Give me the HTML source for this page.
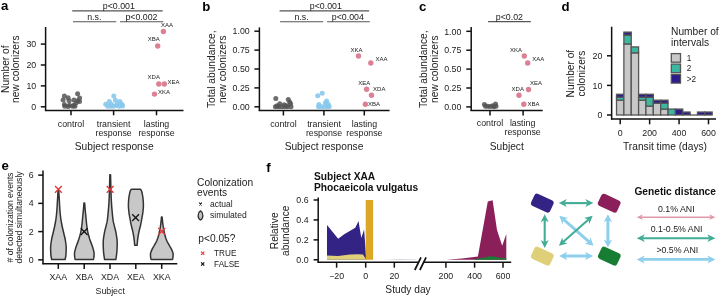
<!DOCTYPE html>
<html><head><meta charset="utf-8"><style>
html,body{margin:0;padding:0;background:#fff;width:720px;height:296px;overflow:hidden;}
svg{display:block;font-family:"Liberation Sans", sans-serif;filter:blur(0.35px);}
</style></head><body>
<svg width="720" height="296" viewBox="0 0 720 296" font-family='"Liberation Sans", sans-serif'>
<text x="1.00" y="9.90" font-size="13.2" text-anchor="start" font-weight="bold" fill="#000" >a</text>
<text x="202.20" y="10.60" font-size="13.2" text-anchor="start" font-weight="bold" fill="#000" >b</text>
<text x="419.00" y="10.80" font-size="13.2" text-anchor="start" font-weight="bold" fill="#000" >c</text>
<text x="561.50" y="10.60" font-size="13.2" text-anchor="start" font-weight="bold" fill="#000" >d</text>
<text x="1.40" y="169.50" font-size="13.2" text-anchor="start" font-weight="bold" fill="#000" >e</text>
<text x="266.20" y="171.70" font-size="13.2" text-anchor="start" font-weight="bold" fill="#000" >f</text>
<line x1="45.60" y1="27.00" x2="45.60" y2="111.05" stroke="#111" stroke-width="1.5" />
<line x1="44.95" y1="110.40" x2="183.50" y2="110.40" stroke="#111" stroke-width="1.5" />
<line x1="40.80" y1="106.80" x2="45.60" y2="106.80" stroke="#111" stroke-width="1.5" />
<text x="36.20" y="110.00" font-size="8.8" text-anchor="end" font-weight="normal" fill="#222" >0</text>
<line x1="40.80" y1="85.90" x2="45.60" y2="85.90" stroke="#111" stroke-width="1.5" />
<text x="36.20" y="89.10" font-size="8.8" text-anchor="end" font-weight="normal" fill="#222" >10</text>
<line x1="40.80" y1="65.00" x2="45.60" y2="65.00" stroke="#111" stroke-width="1.5" />
<text x="36.20" y="68.20" font-size="8.8" text-anchor="end" font-weight="normal" fill="#222" >20</text>
<line x1="40.80" y1="44.10" x2="45.60" y2="44.10" stroke="#111" stroke-width="1.5" />
<text x="36.20" y="47.30" font-size="8.8" text-anchor="end" font-weight="normal" fill="#222" >30</text>
<line x1="71.00" y1="110.40" x2="71.00" y2="115.30" stroke="#111" stroke-width="1.5" />
<line x1="113.60" y1="110.40" x2="113.60" y2="115.30" stroke="#111" stroke-width="1.5" />
<line x1="156.50" y1="110.40" x2="156.50" y2="115.30" stroke="#111" stroke-width="1.5" />
<text x="71.00" y="126.90" font-size="8.8" text-anchor="middle" font-weight="normal" fill="#222" >control</text>
<text x="113.60" y="127.00" font-size="8.8" text-anchor="middle" font-weight="normal" fill="#222" >transient</text>
<text x="113.60" y="135.90" font-size="8.8" text-anchor="middle" font-weight="normal" fill="#222" >response</text>
<text x="156.50" y="127.00" font-size="8.8" text-anchor="middle" font-weight="normal" fill="#222" >lasting</text>
<text x="156.50" y="135.90" font-size="8.8" text-anchor="middle" font-weight="normal" fill="#222" >response</text>
<text x="114.20" y="149.80" font-size="10.2" text-anchor="middle" font-weight="normal" fill="#222" >Subject response</text>
<text transform="translate(8.60,69.20) rotate(-90)" font-size="10.2" text-anchor="middle" font-weight="normal" fill="#222">Number of</text>
<text transform="translate(19.10,69.20) rotate(-90)" font-size="10.2" text-anchor="middle" font-weight="normal" fill="#222">new colonizers</text>
<line x1="72.20" y1="10.80" x2="162.70" y2="10.80" stroke="#555" stroke-width="1.15" />
<text x="118.80" y="8.60" font-size="8.8" text-anchor="middle" font-weight="normal" fill="#222" >p&lt;0.001</text>
<line x1="73.00" y1="21.75" x2="116.20" y2="21.75" stroke="#555" stroke-width="1.15" />
<text x="94.30" y="19.70" font-size="8.8" text-anchor="middle" font-weight="normal" fill="#222" >n.s.</text>
<line x1="120.00" y1="21.75" x2="163.20" y2="21.75" stroke="#555" stroke-width="1.15" />
<text x="141.40" y="19.70" font-size="8.8" text-anchor="middle" font-weight="normal" fill="#222" >p&lt;0.002</text>
<circle cx="64.40" cy="96.10" r="2.5" fill="#555555" fill-opacity="0.85"/>
<circle cx="68.10" cy="97.80" r="2.5" fill="#555555" fill-opacity="0.85"/>
<circle cx="77.60" cy="93.70" r="2.5" fill="#555555" fill-opacity="0.85"/>
<circle cx="79.60" cy="98.10" r="2.5" fill="#555555" fill-opacity="0.85"/>
<circle cx="63.10" cy="100.10" r="2.5" fill="#555555" fill-opacity="0.85"/>
<circle cx="69.10" cy="100.80" r="2.5" fill="#555555" fill-opacity="0.85"/>
<circle cx="73.90" cy="100.10" r="2.5" fill="#555555" fill-opacity="0.85"/>
<circle cx="77.60" cy="100.80" r="2.5" fill="#555555" fill-opacity="0.85"/>
<circle cx="64.40" cy="104.50" r="2.5" fill="#555555" fill-opacity="0.85"/>
<circle cx="69.50" cy="105.20" r="2.5" fill="#555555" fill-opacity="0.85"/>
<circle cx="73.90" cy="105.20" r="2.5" fill="#555555" fill-opacity="0.85"/>
<circle cx="76.20" cy="102.80" r="2.5" fill="#555555" fill-opacity="0.85"/>
<circle cx="64.80" cy="106.20" r="2.5" fill="#555555" fill-opacity="0.85"/>
<circle cx="68.10" cy="106.60" r="2.5" fill="#555555" fill-opacity="0.85"/>
<circle cx="74.90" cy="106.20" r="2.5" fill="#555555" fill-opacity="0.85"/>
<circle cx="72.50" cy="106.20" r="2.5" fill="#555555" fill-opacity="0.85"/>
<circle cx="79.50" cy="101.50" r="2.5" fill="#555555" fill-opacity="0.85"/>
<circle cx="113.80" cy="96.10" r="2.5" fill="#88c8ec" fill-opacity="0.9"/>
<circle cx="115.40" cy="100.20" r="2.5" fill="#88c8ec" fill-opacity="0.9"/>
<circle cx="109.30" cy="101.40" r="2.5" fill="#88c8ec" fill-opacity="0.9"/>
<circle cx="119.90" cy="101.40" r="2.5" fill="#88c8ec" fill-opacity="0.9"/>
<circle cx="105.70" cy="104.20" r="2.5" fill="#88c8ec" fill-opacity="0.9"/>
<circle cx="111.40" cy="104.20" r="2.5" fill="#88c8ec" fill-opacity="0.9"/>
<circle cx="117.40" cy="103.80" r="2.5" fill="#88c8ec" fill-opacity="0.9"/>
<circle cx="121.90" cy="104.20" r="2.5" fill="#88c8ec" fill-opacity="0.9"/>
<circle cx="107.70" cy="106.20" r="2.5" fill="#88c8ec" fill-opacity="0.9"/>
<circle cx="113.40" cy="106.20" r="2.5" fill="#88c8ec" fill-opacity="0.9"/>
<circle cx="119.10" cy="106.20" r="2.5" fill="#88c8ec" fill-opacity="0.9"/>
<circle cx="116.20" cy="105.40" r="2.5" fill="#88c8ec" fill-opacity="0.9"/>
<circle cx="110.50" cy="106.30" r="2.5" fill="#88c8ec" fill-opacity="0.9"/>
<circle cx="122.50" cy="106.00" r="2.5" fill="#88c8ec" fill-opacity="0.9"/>
<circle cx="163.40" cy="31.50" r="2.7" fill="#d9798f" fill-opacity="0.95"/>
<circle cx="157.70" cy="46.00" r="2.7" fill="#d9798f" fill-opacity="0.95"/>
<circle cx="158.80" cy="84.00" r="2.7" fill="#d9798f" fill-opacity="0.95"/>
<circle cx="164.30" cy="84.00" r="2.7" fill="#d9798f" fill-opacity="0.95"/>
<circle cx="154.50" cy="94.10" r="2.7" fill="#d9798f" fill-opacity="0.95"/>
<text x="161.00" y="27.40" font-size="6.0" text-anchor="start" font-weight="normal" fill="#222" >XAA</text>
<text x="147.80" y="41.40" font-size="6.0" text-anchor="start" font-weight="normal" fill="#222" >XBA</text>
<text x="147.60" y="78.90" font-size="6.0" text-anchor="start" font-weight="normal" fill="#222" >XDA</text>
<text x="167.60" y="83.70" font-size="6.0" text-anchor="start" font-weight="normal" fill="#222" >XEA</text>
<text x="158.00" y="93.80" font-size="6.0" text-anchor="start" font-weight="normal" fill="#222" >XKA</text>
<line x1="259.40" y1="27.40" x2="259.40" y2="111.05" stroke="#111" stroke-width="1.5" />
<line x1="258.75" y1="110.40" x2="389.60" y2="110.40" stroke="#111" stroke-width="1.5" />
<line x1="254.40" y1="106.80" x2="259.40" y2="106.80" stroke="#111" stroke-width="1.5" />
<text x="249.70" y="110.00" font-size="8.8" text-anchor="end" font-weight="normal" fill="#222" >0.00</text>
<line x1="254.40" y1="87.90" x2="259.40" y2="87.90" stroke="#111" stroke-width="1.5" />
<text x="249.70" y="91.10" font-size="8.8" text-anchor="end" font-weight="normal" fill="#222" >0.25</text>
<line x1="254.40" y1="69.00" x2="259.40" y2="69.00" stroke="#111" stroke-width="1.5" />
<text x="249.70" y="72.20" font-size="8.8" text-anchor="end" font-weight="normal" fill="#222" >0.50</text>
<line x1="254.40" y1="50.10" x2="259.40" y2="50.10" stroke="#111" stroke-width="1.5" />
<text x="249.70" y="53.30" font-size="8.8" text-anchor="end" font-weight="normal" fill="#222" >0.75</text>
<line x1="254.40" y1="31.20" x2="259.40" y2="31.20" stroke="#111" stroke-width="1.5" />
<text x="249.70" y="34.40" font-size="8.8" text-anchor="end" font-weight="normal" fill="#222" >1.00</text>
<line x1="283.40" y1="110.40" x2="283.40" y2="115.50" stroke="#111" stroke-width="1.5" />
<line x1="323.90" y1="110.40" x2="323.90" y2="115.50" stroke="#111" stroke-width="1.5" />
<line x1="364.30" y1="110.40" x2="364.30" y2="115.50" stroke="#111" stroke-width="1.5" />
<text x="283.40" y="126.90" font-size="8.8" text-anchor="middle" font-weight="normal" fill="#222" >control</text>
<text x="324.00" y="127.00" font-size="8.8" text-anchor="middle" font-weight="normal" fill="#222" >transient</text>
<text x="324.00" y="135.90" font-size="8.8" text-anchor="middle" font-weight="normal" fill="#222" >response</text>
<text x="364.40" y="127.00" font-size="8.8" text-anchor="middle" font-weight="normal" fill="#222" >lasting</text>
<text x="364.40" y="135.90" font-size="8.8" text-anchor="middle" font-weight="normal" fill="#222" >response</text>
<text x="324.00" y="149.80" font-size="10.2" text-anchor="middle" font-weight="normal" fill="#222" >Subject response</text>
<text transform="translate(214.50,69.20) rotate(-90)" font-size="10.2" text-anchor="middle" font-weight="normal" fill="#222">Total abundance,</text>
<text transform="translate(225.90,69.20) rotate(-90)" font-size="10.2" text-anchor="middle" font-weight="normal" fill="#222">new colonizers</text>
<line x1="279.60" y1="10.80" x2="369.10" y2="10.80" stroke="#555" stroke-width="1.15" />
<text x="325.80" y="8.60" font-size="8.8" text-anchor="middle" font-weight="normal" fill="#222" >p&lt;0.001</text>
<line x1="280.10" y1="21.75" x2="323.20" y2="21.75" stroke="#555" stroke-width="1.15" />
<text x="301.60" y="19.70" font-size="8.8" text-anchor="middle" font-weight="normal" fill="#222" >n.s.</text>
<line x1="327.10" y1="21.75" x2="369.80" y2="21.75" stroke="#555" stroke-width="1.15" />
<text x="347.80" y="19.70" font-size="8.8" text-anchor="middle" font-weight="normal" fill="#222" >p&lt;0.004</text>
<circle cx="275.80" cy="98.60" r="2.5" fill="#555555" fill-opacity="0.85"/>
<circle cx="288.30" cy="99.40" r="2.5" fill="#555555" fill-opacity="0.85"/>
<circle cx="289.60" cy="102.10" r="2.5" fill="#555555" fill-opacity="0.85"/>
<circle cx="279.80" cy="103.80" r="2.5" fill="#555555" fill-opacity="0.85"/>
<circle cx="284.20" cy="104.80" r="2.5" fill="#555555" fill-opacity="0.85"/>
<circle cx="290.60" cy="103.80" r="2.5" fill="#555555" fill-opacity="0.85"/>
<circle cx="275.40" cy="106.70" r="2.5" fill="#555555" fill-opacity="0.85"/>
<circle cx="278.50" cy="106.70" r="2.5" fill="#555555" fill-opacity="0.85"/>
<circle cx="281.50" cy="106.70" r="2.5" fill="#555555" fill-opacity="0.85"/>
<circle cx="284.50" cy="106.70" r="2.5" fill="#555555" fill-opacity="0.85"/>
<circle cx="287.50" cy="106.70" r="2.5" fill="#555555" fill-opacity="0.85"/>
<circle cx="291.00" cy="106.70" r="2.5" fill="#555555" fill-opacity="0.85"/>
<circle cx="286.50" cy="105.80" r="2.5" fill="#555555" fill-opacity="0.85"/>
<circle cx="277.00" cy="105.80" r="2.5" fill="#555555" fill-opacity="0.85"/>
<circle cx="317.70" cy="95.70" r="2.5" fill="#88c8ec" fill-opacity="0.9"/>
<circle cx="322.20" cy="93.30" r="2.5" fill="#88c8ec" fill-opacity="0.9"/>
<circle cx="326.60" cy="101.00" r="2.5" fill="#88c8ec" fill-opacity="0.9"/>
<circle cx="325.40" cy="103.00" r="2.5" fill="#88c8ec" fill-opacity="0.9"/>
<circle cx="328.30" cy="104.20" r="2.5" fill="#88c8ec" fill-opacity="0.9"/>
<circle cx="318.90" cy="104.60" r="2.5" fill="#88c8ec" fill-opacity="0.9"/>
<circle cx="318.50" cy="106.80" r="2.5" fill="#88c8ec" fill-opacity="0.9"/>
<circle cx="321.50" cy="106.80" r="2.5" fill="#88c8ec" fill-opacity="0.9"/>
<circle cx="324.50" cy="106.80" r="2.5" fill="#88c8ec" fill-opacity="0.9"/>
<circle cx="327.50" cy="106.80" r="2.5" fill="#88c8ec" fill-opacity="0.9"/>
<circle cx="329.20" cy="106.50" r="2.5" fill="#88c8ec" fill-opacity="0.9"/>
<circle cx="358.50" cy="56.00" r="2.7" fill="#d9798f" fill-opacity="0.95"/>
<circle cx="370.80" cy="63.00" r="2.7" fill="#d9798f" fill-opacity="0.95"/>
<circle cx="366.60" cy="89.20" r="2.7" fill="#d9798f" fill-opacity="0.95"/>
<circle cx="371.50" cy="95.30" r="2.7" fill="#d9798f" fill-opacity="0.95"/>
<circle cx="365.40" cy="104.30" r="2.7" fill="#d9798f" fill-opacity="0.95"/>
<text x="350.50" y="51.90" font-size="6.0" text-anchor="start" font-weight="normal" fill="#222" >XKA</text>
<text x="375.40" y="61.40" font-size="6.0" text-anchor="start" font-weight="normal" fill="#222" >XAA</text>
<text x="358.20" y="84.70" font-size="6.0" text-anchor="start" font-weight="normal" fill="#222" >XEA</text>
<text x="373.10" y="90.50" font-size="6.0" text-anchor="start" font-weight="normal" fill="#222" >XDA</text>
<text x="368.10" y="105.80" font-size="6.0" text-anchor="start" font-weight="normal" fill="#222" >XBA</text>
<line x1="471.20" y1="27.00" x2="471.20" y2="111.05" stroke="#111" stroke-width="1.5" />
<line x1="470.55" y1="110.40" x2="542.70" y2="110.40" stroke="#111" stroke-width="1.5" />
<line x1="466.30" y1="106.90" x2="471.20" y2="106.90" stroke="#111" stroke-width="1.5" />
<text x="461.30" y="110.10" font-size="8.8" text-anchor="end" font-weight="normal" fill="#222" >0.00</text>
<line x1="466.30" y1="88.00" x2="471.20" y2="88.00" stroke="#111" stroke-width="1.5" />
<text x="461.30" y="91.20" font-size="8.8" text-anchor="end" font-weight="normal" fill="#222" >0.25</text>
<line x1="466.30" y1="69.10" x2="471.20" y2="69.10" stroke="#111" stroke-width="1.5" />
<text x="461.30" y="72.30" font-size="8.8" text-anchor="end" font-weight="normal" fill="#222" >0.50</text>
<line x1="466.30" y1="50.20" x2="471.20" y2="50.20" stroke="#111" stroke-width="1.5" />
<text x="461.30" y="53.40" font-size="8.8" text-anchor="end" font-weight="normal" fill="#222" >0.75</text>
<line x1="466.30" y1="31.30" x2="471.20" y2="31.30" stroke="#111" stroke-width="1.5" />
<text x="461.30" y="34.50" font-size="8.8" text-anchor="end" font-weight="normal" fill="#222" >1.00</text>
<line x1="490.00" y1="110.40" x2="490.00" y2="115.60" stroke="#111" stroke-width="1.5" />
<line x1="523.10" y1="110.40" x2="523.10" y2="115.60" stroke="#111" stroke-width="1.5" />
<text x="490.00" y="126.20" font-size="8.8" text-anchor="middle" font-weight="normal" fill="#222" >control</text>
<text x="522.60" y="126.20" font-size="8.8" text-anchor="middle" font-weight="normal" fill="#222" >lasting</text>
<text x="522.60" y="135.30" font-size="8.8" text-anchor="middle" font-weight="normal" fill="#222" >response</text>
<text x="506.80" y="149.80" font-size="10.2" text-anchor="middle" font-weight="normal" fill="#222" >Subject</text>
<text transform="translate(426.50,69.20) rotate(-90)" font-size="10.2" text-anchor="middle" font-weight="normal" fill="#222">Total abundance,</text>
<text transform="translate(437.90,69.20) rotate(-90)" font-size="10.2" text-anchor="middle" font-weight="normal" fill="#222">new colonizers</text>
<line x1="488.10" y1="21.60" x2="530.80" y2="21.60" stroke="#555" stroke-width="1.15" />
<text x="509.40" y="19.60" font-size="8.8" text-anchor="middle" font-weight="normal" fill="#222" >p&lt;0.02</text>
<circle cx="484.40" cy="104.60" r="2.5" fill="#555555" fill-opacity="0.85"/>
<circle cx="487.60" cy="106.30" r="2.5" fill="#555555" fill-opacity="0.85"/>
<circle cx="490.00" cy="106.50" r="2.5" fill="#555555" fill-opacity="0.85"/>
<circle cx="492.50" cy="105.70" r="2.5" fill="#555555" fill-opacity="0.85"/>
<circle cx="495.50" cy="104.10" r="2.5" fill="#555555" fill-opacity="0.85"/>
<circle cx="496.00" cy="106.30" r="2.5" fill="#555555" fill-opacity="0.85"/>
<circle cx="493.80" cy="106.80" r="2.5" fill="#555555" fill-opacity="0.85"/>
<circle cx="485.50" cy="106.30" r="2.5" fill="#555555" fill-opacity="0.85"/>
<circle cx="524.30" cy="56.00" r="2.7" fill="#d9798f" fill-opacity="0.95"/>
<circle cx="527.70" cy="63.00" r="2.7" fill="#d9798f" fill-opacity="0.95"/>
<circle cx="528.50" cy="89.50" r="2.7" fill="#d9798f" fill-opacity="0.95"/>
<circle cx="519.00" cy="95.30" r="2.7" fill="#d9798f" fill-opacity="0.95"/>
<circle cx="523.80" cy="104.30" r="2.7" fill="#d9798f" fill-opacity="0.95"/>
<text x="510.10" y="51.90" font-size="6.0" text-anchor="start" font-weight="normal" fill="#222" >XKA</text>
<text x="532.20" y="61.00" font-size="6.0" text-anchor="start" font-weight="normal" fill="#222" >XAA</text>
<text x="529.90" y="84.70" font-size="6.0" text-anchor="start" font-weight="normal" fill="#222" >XEA</text>
<text x="511.60" y="90.80" font-size="6.0" text-anchor="start" font-weight="normal" fill="#222" >XDA</text>
<text x="527.40" y="106.00" font-size="6.0" text-anchor="start" font-weight="normal" fill="#222" >XBA</text>
<line x1="611.65" y1="26.70" x2="611.65" y2="119.65" stroke="#111" stroke-width="1.5" />
<line x1="611.00" y1="119.00" x2="716.00" y2="119.00" stroke="#111" stroke-width="1.5" />
<line x1="607.00" y1="115.00" x2="611.65" y2="115.00" stroke="#111" stroke-width="1.5" />
<text x="602.30" y="118.20" font-size="8.8" text-anchor="end" font-weight="normal" fill="#222" >0</text>
<line x1="607.00" y1="85.40" x2="611.65" y2="85.40" stroke="#111" stroke-width="1.5" />
<text x="602.30" y="88.60" font-size="8.8" text-anchor="end" font-weight="normal" fill="#222" >10</text>
<line x1="607.00" y1="55.80" x2="611.65" y2="55.80" stroke="#111" stroke-width="1.5" />
<text x="602.30" y="59.00" font-size="8.8" text-anchor="end" font-weight="normal" fill="#222" >20</text>
<line x1="620.20" y1="119.00" x2="620.20" y2="124.30" stroke="#111" stroke-width="1.5" />
<text x="620.20" y="135.60" font-size="8.8" text-anchor="middle" font-weight="normal" fill="#222" >0</text>
<line x1="649.63" y1="119.00" x2="649.63" y2="124.30" stroke="#111" stroke-width="1.5" />
<text x="649.63" y="135.60" font-size="8.8" text-anchor="middle" font-weight="normal" fill="#222" >200</text>
<line x1="679.07" y1="119.00" x2="679.07" y2="124.30" stroke="#111" stroke-width="1.5" />
<text x="679.07" y="135.60" font-size="8.8" text-anchor="middle" font-weight="normal" fill="#222" >400</text>
<line x1="708.50" y1="119.00" x2="708.50" y2="124.30" stroke="#111" stroke-width="1.5" />
<text x="708.50" y="135.60" font-size="8.8" text-anchor="middle" font-weight="normal" fill="#222" >600</text>
<text x="665.00" y="149.80" font-size="10.2" text-anchor="middle" font-weight="normal" fill="#222" >Transit time (days)</text>
<text transform="translate(574.40,73.60) rotate(-90)" font-size="10.2" text-anchor="middle" font-weight="normal" fill="#222">Number of</text>
<text transform="translate(585.00,73.60) rotate(-90)" font-size="10.2" text-anchor="middle" font-weight="normal" fill="#222">colonizers</text>
<rect x="616.52" y="100.20" width="7.36" height="14.80" fill="#c8c8c8" stroke="#555" stroke-width="1.3"/>
<rect x="616.52" y="97.24" width="7.36" height="2.96" fill="#3db8a0" stroke="#555" stroke-width="1.3"/>
<rect x="616.52" y="94.28" width="7.36" height="2.96" fill="#2c1c8c" stroke="#555" stroke-width="1.3"/>
<rect x="623.88" y="43.96" width="7.36" height="71.04" fill="#c8c8c8" stroke="#555" stroke-width="1.3"/>
<rect x="623.88" y="35.08" width="7.36" height="8.88" fill="#3db8a0" stroke="#555" stroke-width="1.3"/>
<rect x="623.88" y="32.12" width="7.36" height="2.96" fill="#2c1c8c" stroke="#555" stroke-width="1.3"/>
<rect x="631.24" y="52.84" width="7.36" height="62.16" fill="#c8c8c8" stroke="#555" stroke-width="1.3"/>
<rect x="631.24" y="46.92" width="7.36" height="5.92" fill="#3db8a0" stroke="#555" stroke-width="1.3"/>
<rect x="638.60" y="100.20" width="7.36" height="14.80" fill="#c8c8c8" stroke="#555" stroke-width="1.3"/>
<rect x="638.60" y="97.24" width="7.36" height="2.96" fill="#3db8a0" stroke="#555" stroke-width="1.3"/>
<rect x="638.60" y="94.28" width="7.36" height="2.96" fill="#2c1c8c" stroke="#555" stroke-width="1.3"/>
<rect x="645.95" y="106.12" width="7.36" height="8.88" fill="#c8c8c8" stroke="#555" stroke-width="1.3"/>
<rect x="645.95" y="97.24" width="7.36" height="8.88" fill="#3db8a0" stroke="#555" stroke-width="1.3"/>
<rect x="645.95" y="94.28" width="7.36" height="2.96" fill="#2c1c8c" stroke="#555" stroke-width="1.3"/>
<rect x="653.31" y="103.16" width="7.36" height="11.84" fill="#c8c8c8" stroke="#555" stroke-width="1.3"/>
<rect x="653.31" y="100.20" width="7.36" height="2.96" fill="#2c1c8c" stroke="#555" stroke-width="1.3"/>
<rect x="660.67" y="109.08" width="7.36" height="5.92" fill="#c8c8c8" stroke="#555" stroke-width="1.3"/>
<rect x="660.67" y="103.16" width="7.36" height="5.92" fill="#3db8a0" stroke="#555" stroke-width="1.3"/>
<rect x="660.67" y="100.20" width="7.36" height="2.96" fill="#2c1c8c" stroke="#555" stroke-width="1.3"/>
<rect x="668.03" y="109.08" width="7.36" height="5.92" fill="#3db8a0" stroke="#555" stroke-width="1.3"/>
<rect x="675.39" y="109.08" width="7.36" height="5.92" fill="#2c1c8c" stroke="#555" stroke-width="1.3"/>
<rect x="682.75" y="112.04" width="7.36" height="2.96" fill="#2c1c8c" stroke="#555" stroke-width="1.3"/>
<line x1="690.10" y1="115.00" x2="697.46" y2="115.00" stroke="#555" stroke-width="1.3" />
<rect x="697.46" y="112.04" width="7.36" height="2.96" fill="#2c1c8c" stroke="#555" stroke-width="1.3"/>
<rect x="704.82" y="112.04" width="7.36" height="2.96" fill="#2c1c8c" stroke="#555" stroke-width="1.3"/>
<text x="671.10" y="35.10" font-size="10.2" text-anchor="start" font-weight="normal" fill="#222" >Number of</text>
<text x="671.10" y="45.60" font-size="10.2" text-anchor="start" font-weight="normal" fill="#222" >intervals</text>
<rect x="671.3" y="53.60" width="9.2" height="8.6" fill="#c8c8c8" stroke="#555" stroke-width="1.3"/>
<text x="686.80" y="60.80" font-size="8.2" text-anchor="start" font-weight="normal" fill="#222" >1</text>
<rect x="671.3" y="64.10" width="9.2" height="8.6" fill="#3db8a0" stroke="#555" stroke-width="1.3"/>
<text x="686.80" y="71.20" font-size="8.2" text-anchor="start" font-weight="normal" fill="#222" >2</text>
<rect x="671.3" y="74.50" width="9.2" height="8.6" fill="#2c1c8c" stroke="#555" stroke-width="1.3"/>
<text x="686.80" y="81.80" font-size="8.2" text-anchor="start" font-weight="normal" fill="#222" >&gt;2</text>
<line x1="43.00" y1="170.40" x2="43.00" y2="264.35" stroke="#111" stroke-width="1.5" />
<line x1="42.35" y1="263.70" x2="177.30" y2="263.70" stroke="#111" stroke-width="1.5" />
<line x1="38.20" y1="259.85" x2="43.00" y2="259.85" stroke="#111" stroke-width="1.5" />
<text x="33.60" y="262.95" font-size="8.8" text-anchor="end" font-weight="normal" fill="#222" >0</text>
<line x1="38.20" y1="231.61" x2="43.00" y2="231.61" stroke="#111" stroke-width="1.5" />
<text x="33.60" y="234.71" font-size="8.8" text-anchor="end" font-weight="normal" fill="#222" >2</text>
<line x1="38.20" y1="203.37" x2="43.00" y2="203.37" stroke="#111" stroke-width="1.5" />
<text x="33.60" y="206.47" font-size="8.8" text-anchor="end" font-weight="normal" fill="#222" >4</text>
<line x1="38.20" y1="175.13" x2="43.00" y2="175.13" stroke="#111" stroke-width="1.5" />
<text x="33.60" y="178.23" font-size="8.8" text-anchor="end" font-weight="normal" fill="#222" >6</text>
<line x1="58.30" y1="263.70" x2="58.30" y2="268.90" stroke="#111" stroke-width="1.5" />
<text x="58.30" y="280.00" font-size="8.8" text-anchor="middle" font-weight="normal" fill="#222" >XAA</text>
<line x1="84.20" y1="263.70" x2="84.20" y2="268.90" stroke="#111" stroke-width="1.5" />
<text x="84.20" y="280.00" font-size="8.8" text-anchor="middle" font-weight="normal" fill="#222" >XBA</text>
<line x1="110.00" y1="263.70" x2="110.00" y2="268.90" stroke="#111" stroke-width="1.5" />
<text x="110.00" y="280.00" font-size="8.8" text-anchor="middle" font-weight="normal" fill="#222" >XDA</text>
<line x1="135.80" y1="263.70" x2="135.80" y2="268.90" stroke="#111" stroke-width="1.5" />
<text x="135.80" y="280.00" font-size="8.8" text-anchor="middle" font-weight="normal" fill="#222" >XEA</text>
<line x1="161.70" y1="263.70" x2="161.70" y2="268.90" stroke="#111" stroke-width="1.5" />
<text x="161.70" y="280.00" font-size="8.8" text-anchor="middle" font-weight="normal" fill="#222" >XKA</text>
<text x="110.20" y="293.70" font-size="8.8" text-anchor="middle" font-weight="normal" fill="#222" >Subject</text>
<text transform="translate(12.60,217.50) rotate(-90)" font-size="8.6" text-anchor="middle" font-weight="normal" fill="#222"># of colonization events</text>
<text transform="translate(21.70,217.50) rotate(-90)" font-size="8.6" text-anchor="middle" font-weight="normal" fill="#222">detected simultaneously</text>
<path d="M58.75,190.50 L58.78,191.00 L58.81,191.50 L58.84,192.00 L58.86,192.50 L58.89,193.00 L58.92,193.50 L58.95,194.00 L58.98,194.50 L59.01,195.00 L59.04,195.50 L59.07,196.00 L59.10,196.50 L59.12,197.00 L59.15,197.50 L59.18,198.00 L59.21,198.50 L59.24,199.00 L59.27,199.50 L59.30,200.00 L59.33,200.50 L59.36,201.00 L59.39,201.50 L59.41,202.00 L59.44,202.50 L59.47,203.00 L59.50,203.50 L59.52,204.00 L59.55,204.50 L59.58,205.00 L59.61,205.50 L59.64,206.00 L59.67,206.50 L59.70,207.00 L59.73,207.50 L59.76,208.00 L59.79,208.50 L59.83,209.00 L59.86,209.50 L59.90,210.00 L59.94,210.50 L59.98,211.00 L60.02,211.50 L60.06,212.00 L60.11,212.50 L60.15,213.00 L60.20,213.50 L60.25,214.00 L60.30,214.50 L60.35,215.00 L60.40,215.50 L60.46,216.00 L60.52,216.50 L60.58,217.00 L60.64,217.50 L60.70,218.00 L60.77,218.50 L60.84,219.00 L60.91,219.50 L60.99,220.00 L61.07,220.50 L61.15,221.00 L61.24,221.50 L61.33,222.00 L61.42,222.50 L61.52,223.00 L61.61,223.50 L61.71,224.00 L61.80,224.50 L61.90,225.00 L62.00,225.50 L62.10,226.00 L62.21,226.50 L62.31,227.00 L62.42,227.50 L62.54,228.00 L62.65,228.50 L62.77,229.00 L62.88,229.50 L63.00,230.00 L63.12,230.50 L63.24,231.00 L63.35,231.50 L63.47,232.00 L63.59,232.50 L63.70,233.00 L63.82,233.50 L63.94,234.00 L64.06,234.50 L64.19,235.00 L64.31,235.50 L64.44,236.00 L64.57,236.50 L64.69,237.00 L64.81,237.50 L64.92,238.00 L65.03,238.50 L65.13,239.00 L65.22,239.50 L65.30,240.00 L65.38,240.50 L65.45,241.00 L65.53,241.50 L65.61,242.00 L65.69,242.50 L65.76,243.00 L65.83,243.50 L65.90,244.00 L65.96,244.50 L66.02,245.00 L66.07,245.50 L66.12,246.00 L66.15,246.50 L66.18,247.00 L66.19,247.50 L66.20,248.00 L66.20,248.50 L66.19,249.00 L66.18,249.50 L66.17,250.00 L66.16,250.50 L66.14,251.00 L66.12,251.50 L66.10,252.00 L66.08,252.50 L66.05,253.00 L66.03,253.50 L66.00,254.00 L65.97,254.50 L65.92,255.00 L65.86,255.50 L65.79,256.00 L65.71,256.50 L65.62,257.00 L65.53,257.50 L65.43,258.00 L65.32,258.50 L65.21,259.00 L65.10,259.50 L51.70,259.50 L51.59,259.00 L51.48,258.50 L51.37,258.00 L51.27,257.50 L51.18,257.00 L51.09,256.50 L51.01,256.00 L50.94,255.50 L50.88,255.00 L50.83,254.50 L50.80,254.00 L50.77,253.50 L50.75,253.00 L50.72,252.50 L50.70,252.00 L50.68,251.50 L50.66,251.00 L50.64,250.50 L50.63,250.00 L50.62,249.50 L50.61,249.00 L50.60,248.50 L50.60,248.00 L50.61,247.50 L50.62,247.00 L50.65,246.50 L50.68,246.00 L50.73,245.50 L50.78,245.00 L50.84,244.50 L50.90,244.00 L50.97,243.50 L51.04,243.00 L51.11,242.50 L51.19,242.00 L51.27,241.50 L51.35,241.00 L51.42,240.50 L51.50,240.00 L51.58,239.50 L51.67,239.00 L51.77,238.50 L51.88,238.00 L51.99,237.50 L52.11,237.00 L52.23,236.50 L52.36,236.00 L52.49,235.50 L52.61,235.00 L52.74,234.50 L52.86,234.00 L52.98,233.50 L53.10,233.00 L53.21,232.50 L53.33,232.00 L53.45,231.50 L53.56,231.00 L53.68,230.50 L53.80,230.00 L53.92,229.50 L54.03,229.00 L54.15,228.50 L54.26,228.00 L54.38,227.50 L54.49,227.00 L54.59,226.50 L54.70,226.00 L54.80,225.50 L54.90,225.00 L55.00,224.50 L55.09,224.00 L55.19,223.50 L55.28,223.00 L55.38,222.50 L55.47,222.00 L55.56,221.50 L55.65,221.00 L55.73,220.50 L55.81,220.00 L55.89,219.50 L55.96,219.00 L56.03,218.50 L56.10,218.00 L56.16,217.50 L56.22,217.00 L56.28,216.50 L56.34,216.00 L56.40,215.50 L56.45,215.00 L56.50,214.50 L56.55,214.00 L56.60,213.50 L56.65,213.00 L56.69,212.50 L56.74,212.00 L56.78,211.50 L56.82,211.00 L56.86,210.50 L56.90,210.00 L56.94,209.50 L56.97,209.00 L57.01,208.50 L57.04,208.00 L57.07,207.50 L57.10,207.00 L57.13,206.50 L57.16,206.00 L57.19,205.50 L57.22,205.00 L57.25,204.50 L57.28,204.00 L57.30,203.50 L57.33,203.00 L57.36,202.50 L57.39,202.00 L57.41,201.50 L57.44,201.00 L57.47,200.50 L57.50,200.00 L57.53,199.50 L57.56,199.00 L57.59,198.50 L57.62,198.00 L57.65,197.50 L57.68,197.00 L57.70,196.50 L57.73,196.00 L57.76,195.50 L57.79,195.00 L57.82,194.50 L57.85,194.00 L57.88,193.50 L57.91,193.00 L57.94,192.50 L57.96,192.00 L57.99,191.50 L58.02,191.00 L58.05,190.50 Z" fill="#c8c8c8" stroke="#333" stroke-width="1.5" stroke-linejoin="round"/>
<path d="M84.65,203.10 L84.69,203.60 L84.72,204.11 L84.76,204.61 L84.80,205.11 L84.84,205.62 L84.88,206.12 L84.92,206.62 L84.96,207.13 L85.00,207.63 L85.04,208.14 L85.08,208.64 L85.13,209.14 L85.17,209.65 L85.21,210.15 L85.26,210.65 L85.31,211.16 L85.35,211.66 L85.40,212.16 L85.45,212.67 L85.50,213.17 L85.56,213.68 L85.61,214.18 L85.66,214.68 L85.71,215.19 L85.76,215.69 L85.82,216.19 L85.87,216.70 L85.92,217.20 L85.97,217.70 L86.02,218.21 L86.07,218.71 L86.12,219.21 L86.17,219.72 L86.21,220.22 L86.26,220.72 L86.31,221.23 L86.35,221.73 L86.40,222.24 L86.45,222.74 L86.50,223.24 L86.56,223.75 L86.61,224.25 L86.67,224.75 L86.73,225.26 L86.79,225.76 L86.86,226.26 L86.93,226.77 L86.99,227.27 L87.07,227.78 L87.14,228.28 L87.22,228.78 L87.30,229.29 L87.38,229.79 L87.47,230.29 L87.56,230.80 L87.66,231.30 L87.76,231.80 L87.87,232.31 L87.98,232.81 L88.10,233.31 L88.22,233.82 L88.35,234.32 L88.48,234.82 L88.62,235.33 L88.76,235.83 L88.90,236.34 L89.05,236.84 L89.19,237.34 L89.34,237.85 L89.49,238.35 L89.65,238.85 L89.80,239.36 L89.96,239.86 L90.12,240.36 L90.29,240.87 L90.47,241.37 L90.66,241.88 L90.85,242.38 L91.05,242.88 L91.26,243.39 L91.46,243.89 L91.66,244.39 L91.86,244.90 L92.05,245.40 L92.24,245.90 L92.42,246.41 L92.59,246.91 L92.74,247.41 L92.88,247.92 L93.01,248.42 L93.15,248.93 L93.28,249.43 L93.42,249.93 L93.55,250.44 L93.68,250.94 L93.79,251.44 L93.89,251.95 L93.98,252.45 L94.04,252.95 L94.08,253.46 L94.10,253.96 L94.10,254.46 L94.08,254.97 L94.06,255.47 L94.02,255.97 L93.98,256.48 L93.92,256.98 L93.84,257.49 L93.75,257.99 L93.65,258.49 L93.53,259.00 L93.40,259.50 L75.20,259.50 L75.07,259.00 L74.95,258.49 L74.85,257.99 L74.76,257.49 L74.68,256.98 L74.62,256.48 L74.58,255.97 L74.54,255.47 L74.52,254.97 L74.50,254.46 L74.50,253.96 L74.52,253.46 L74.56,252.95 L74.62,252.45 L74.71,251.95 L74.81,251.44 L74.92,250.94 L75.05,250.44 L75.18,249.93 L75.32,249.43 L75.45,248.93 L75.59,248.42 L75.72,247.92 L75.86,247.41 L76.01,246.91 L76.18,246.41 L76.36,245.90 L76.55,245.40 L76.74,244.90 L76.94,244.39 L77.14,243.89 L77.34,243.39 L77.55,242.88 L77.75,242.38 L77.94,241.88 L78.13,241.37 L78.31,240.87 L78.48,240.36 L78.64,239.86 L78.80,239.36 L78.95,238.85 L79.11,238.35 L79.26,237.85 L79.41,237.34 L79.55,236.84 L79.70,236.34 L79.84,235.83 L79.98,235.33 L80.12,234.82 L80.25,234.32 L80.38,233.82 L80.50,233.31 L80.62,232.81 L80.73,232.31 L80.84,231.80 L80.94,231.30 L81.04,230.80 L81.13,230.29 L81.22,229.79 L81.30,229.29 L81.38,228.78 L81.46,228.28 L81.53,227.78 L81.61,227.27 L81.67,226.77 L81.74,226.26 L81.81,225.76 L81.87,225.26 L81.93,224.75 L81.99,224.25 L82.04,223.75 L82.10,223.24 L82.15,222.74 L82.20,222.24 L82.25,221.73 L82.29,221.23 L82.34,220.72 L82.39,220.22 L82.43,219.72 L82.48,219.21 L82.53,218.71 L82.58,218.21 L82.63,217.70 L82.68,217.20 L82.73,216.70 L82.78,216.19 L82.84,215.69 L82.89,215.19 L82.94,214.68 L82.99,214.18 L83.04,213.68 L83.10,213.17 L83.15,212.67 L83.20,212.16 L83.25,211.66 L83.29,211.16 L83.34,210.65 L83.39,210.15 L83.43,209.65 L83.47,209.14 L83.52,208.64 L83.56,208.14 L83.60,207.63 L83.64,207.13 L83.68,206.62 L83.72,206.12 L83.76,205.62 L83.80,205.11 L83.84,204.61 L83.88,204.11 L83.91,203.60 L83.95,203.10 Z" fill="#c8c8c8" stroke="#333" stroke-width="1.5" stroke-linejoin="round"/>
<path d="M110.55,174.80 L110.56,175.30 L110.57,175.80 L110.58,176.30 L110.59,176.80 L110.61,177.31 L110.62,177.81 L110.63,178.31 L110.64,178.81 L110.65,179.31 L110.67,179.81 L110.68,180.31 L110.69,180.81 L110.70,181.32 L110.72,181.82 L110.73,182.32 L110.74,182.82 L110.76,183.32 L110.77,183.82 L110.78,184.32 L110.80,184.82 L110.81,185.32 L110.82,185.83 L110.84,186.33 L110.85,186.83 L110.86,187.33 L110.88,187.83 L110.89,188.33 L110.90,188.83 L110.92,189.33 L110.93,189.84 L110.95,190.34 L110.96,190.84 L110.98,191.34 L110.99,191.84 L111.01,192.34 L111.02,192.84 L111.04,193.34 L111.06,193.84 L111.08,194.35 L111.09,194.85 L111.11,195.35 L111.13,195.85 L111.15,196.35 L111.17,196.85 L111.19,197.35 L111.22,197.85 L111.24,198.36 L111.26,198.86 L111.29,199.36 L111.31,199.86 L111.33,200.36 L111.36,200.86 L111.39,201.36 L111.41,201.86 L111.44,202.37 L111.47,202.87 L111.50,203.37 L111.53,203.87 L111.56,204.37 L111.59,204.87 L111.62,205.37 L111.66,205.87 L111.70,206.37 L111.74,206.88 L111.78,207.38 L111.82,207.88 L111.86,208.38 L111.91,208.88 L111.95,209.38 L112.00,209.88 L112.05,210.38 L112.09,210.89 L112.14,211.39 L112.19,211.89 L112.24,212.39 L112.28,212.89 L112.33,213.39 L112.38,213.89 L112.43,214.39 L112.47,214.89 L112.52,215.40 L112.57,215.90 L112.62,216.40 L112.68,216.90 L112.73,217.40 L112.79,217.90 L112.85,218.40 L112.91,218.90 L112.97,219.41 L113.04,219.91 L113.11,220.41 L113.19,220.91 L113.27,221.41 L113.37,221.91 L113.47,222.41 L113.59,222.91 L113.71,223.41 L113.84,223.92 L113.96,224.42 L114.08,224.92 L114.20,225.42 L114.32,225.92 L114.45,226.42 L114.57,226.92 L114.70,227.42 L114.84,227.93 L114.97,228.43 L115.10,228.93 L115.22,229.43 L115.35,229.93 L115.47,230.43 L115.59,230.93 L115.70,231.43 L115.80,231.93 L115.90,232.44 L115.99,232.94 L116.07,233.44 L116.16,233.94 L116.25,234.44 L116.33,234.94 L116.42,235.44 L116.50,235.94 L116.59,236.45 L116.67,236.95 L116.75,237.45 L116.82,237.95 L116.89,238.45 L116.95,238.95 L117.01,239.45 L117.06,239.95 L117.11,240.46 L117.15,240.96 L117.17,241.46 L117.19,241.96 L117.20,242.46 L117.20,242.96 L117.20,243.46 L117.19,243.96 L117.18,244.46 L117.17,244.97 L117.16,245.47 L117.15,245.97 L117.14,246.47 L117.12,246.97 L117.10,247.47 L117.08,247.97 L117.06,248.47 L117.04,248.98 L117.02,249.48 L117.00,249.98 L116.97,250.48 L116.94,250.98 L116.90,251.48 L116.85,251.98 L116.80,252.48 L116.74,252.98 L116.69,253.49 L116.62,253.99 L116.56,254.49 L116.50,254.99 L116.44,255.49 L116.37,255.99 L116.30,256.49 L116.22,256.99 L116.14,257.50 L116.06,258.00 L115.98,258.50 L115.89,259.00 L115.80,259.50 L104.60,259.50 L104.51,259.00 L104.42,258.50 L104.34,258.00 L104.26,257.50 L104.18,256.99 L104.10,256.49 L104.03,255.99 L103.96,255.49 L103.90,254.99 L103.84,254.49 L103.78,253.99 L103.71,253.49 L103.66,252.98 L103.60,252.48 L103.55,251.98 L103.50,251.48 L103.46,250.98 L103.43,250.48 L103.40,249.98 L103.38,249.48 L103.36,248.98 L103.34,248.47 L103.32,247.97 L103.30,247.47 L103.28,246.97 L103.26,246.47 L103.25,245.97 L103.24,245.47 L103.23,244.97 L103.22,244.46 L103.21,243.96 L103.20,243.46 L103.20,242.96 L103.20,242.46 L103.21,241.96 L103.23,241.46 L103.25,240.96 L103.29,240.46 L103.34,239.95 L103.39,239.45 L103.45,238.95 L103.51,238.45 L103.58,237.95 L103.65,237.45 L103.73,236.95 L103.81,236.45 L103.90,235.94 L103.98,235.44 L104.07,234.94 L104.15,234.44 L104.24,233.94 L104.33,233.44 L104.41,232.94 L104.50,232.44 L104.60,231.93 L104.70,231.43 L104.81,230.93 L104.93,230.43 L105.05,229.93 L105.18,229.43 L105.30,228.93 L105.43,228.43 L105.56,227.93 L105.70,227.42 L105.83,226.92 L105.95,226.42 L106.08,225.92 L106.20,225.42 L106.32,224.92 L106.44,224.42 L106.56,223.92 L106.69,223.41 L106.81,222.91 L106.93,222.41 L107.03,221.91 L107.13,221.41 L107.21,220.91 L107.29,220.41 L107.36,219.91 L107.43,219.41 L107.49,218.90 L107.55,218.40 L107.61,217.90 L107.67,217.40 L107.72,216.90 L107.78,216.40 L107.83,215.90 L107.88,215.40 L107.93,214.89 L107.97,214.39 L108.02,213.89 L108.07,213.39 L108.12,212.89 L108.16,212.39 L108.21,211.89 L108.26,211.39 L108.31,210.89 L108.35,210.38 L108.40,209.88 L108.45,209.38 L108.49,208.88 L108.54,208.38 L108.58,207.88 L108.62,207.38 L108.66,206.88 L108.70,206.37 L108.74,205.87 L108.78,205.37 L108.81,204.87 L108.84,204.37 L108.87,203.87 L108.90,203.37 L108.93,202.87 L108.96,202.37 L108.99,201.86 L109.01,201.36 L109.04,200.86 L109.07,200.36 L109.09,199.86 L109.11,199.36 L109.14,198.86 L109.16,198.36 L109.18,197.85 L109.21,197.35 L109.23,196.85 L109.25,196.35 L109.27,195.85 L109.29,195.35 L109.31,194.85 L109.32,194.35 L109.34,193.84 L109.36,193.34 L109.38,192.84 L109.39,192.34 L109.41,191.84 L109.42,191.34 L109.44,190.84 L109.45,190.34 L109.47,189.84 L109.48,189.33 L109.50,188.83 L109.51,188.33 L109.52,187.83 L109.54,187.33 L109.55,186.83 L109.56,186.33 L109.58,185.83 L109.59,185.32 L109.60,184.82 L109.62,184.32 L109.63,183.82 L109.64,183.32 L109.66,182.82 L109.67,182.32 L109.68,181.82 L109.70,181.32 L109.71,180.81 L109.72,180.31 L109.73,179.81 L109.75,179.31 L109.76,178.81 L109.77,178.31 L109.78,177.81 L109.79,177.31 L109.81,176.80 L109.82,176.30 L109.83,175.80 L109.84,175.30 L109.85,174.80 Z" fill="#c8c8c8" stroke="#333" stroke-width="1.5" stroke-linejoin="round"/>
<path d="M140.60,189.30 L140.93,189.80 L141.21,190.30 L141.42,190.80 L141.59,191.30 L141.75,191.80 L141.90,192.30 L142.04,192.80 L142.16,193.30 L142.27,193.80 L142.37,194.30 L142.46,194.80 L142.55,195.30 L142.64,195.80 L142.72,196.30 L142.79,196.80 L142.87,197.30 L142.93,197.80 L142.99,198.30 L143.05,198.80 L143.10,199.30 L143.14,199.80 L143.17,200.30 L143.20,200.80 L143.24,201.30 L143.27,201.80 L143.30,202.30 L143.32,202.80 L143.35,203.30 L143.37,203.80 L143.38,204.30 L143.39,204.80 L143.40,205.30 L143.40,205.80 L143.39,206.30 L143.37,206.80 L143.34,207.30 L143.31,207.80 L143.27,208.30 L143.23,208.80 L143.18,209.30 L143.13,209.80 L143.08,210.30 L143.03,210.80 L142.98,211.30 L142.92,211.80 L142.87,212.30 L142.80,212.80 L142.73,213.30 L142.66,213.80 L142.57,214.30 L142.49,214.80 L142.40,215.30 L142.31,215.80 L142.21,216.30 L142.12,216.80 L142.03,217.30 L141.94,217.80 L141.85,218.30 L141.76,218.80 L141.67,219.30 L141.58,219.80 L141.49,220.30 L141.41,220.80 L141.31,221.30 L141.22,221.80 L141.13,222.30 L141.04,222.80 L140.94,223.30 L140.84,223.80 L140.74,224.30 L140.64,224.80 L140.54,225.30 L140.43,225.80 L140.31,226.30 L140.19,226.80 L140.07,227.30 L139.94,227.80 L139.81,228.30 L139.68,228.80 L139.55,229.30 L139.43,229.80 L139.30,230.30 L139.18,230.80 L139.06,231.30 L138.95,231.80 L138.84,232.30 L138.74,232.80 L138.64,233.30 L138.55,233.80 L138.46,234.30 L138.37,234.80 L138.28,235.30 L138.20,235.80 L138.11,236.30 L138.03,236.80 L137.96,237.30 L137.88,237.80 L137.81,238.30 L137.74,238.80 L137.68,239.30 L137.62,239.80 L137.57,240.30 L137.52,240.80 L137.46,241.30 L137.42,241.80 L137.37,242.30 L137.33,242.80 L137.28,243.30 L137.25,243.80 L137.21,244.30 L137.18,244.80 L137.15,245.30 L134.65,245.30 L134.62,244.80 L134.59,244.30 L134.55,243.80 L134.52,243.30 L134.47,242.80 L134.43,242.30 L134.38,241.80 L134.34,241.30 L134.28,240.80 L134.23,240.30 L134.18,239.80 L134.12,239.30 L134.06,238.80 L133.99,238.30 L133.92,237.80 L133.84,237.30 L133.77,236.80 L133.69,236.30 L133.60,235.80 L133.52,235.30 L133.43,234.80 L133.34,234.30 L133.25,233.80 L133.16,233.30 L133.06,232.80 L132.96,232.30 L132.85,231.80 L132.74,231.30 L132.62,230.80 L132.50,230.30 L132.37,229.80 L132.25,229.30 L132.12,228.80 L131.99,228.30 L131.86,227.80 L131.73,227.30 L131.61,226.80 L131.49,226.30 L131.37,225.80 L131.26,225.30 L131.16,224.80 L131.06,224.30 L130.96,223.80 L130.86,223.30 L130.76,222.80 L130.67,222.30 L130.58,221.80 L130.49,221.30 L130.39,220.80 L130.31,220.30 L130.22,219.80 L130.13,219.30 L130.04,218.80 L129.95,218.30 L129.86,217.80 L129.77,217.30 L129.68,216.80 L129.59,216.30 L129.49,215.80 L129.40,215.30 L129.31,214.80 L129.23,214.30 L129.14,213.80 L129.07,213.30 L129.00,212.80 L128.93,212.30 L128.88,211.80 L128.82,211.30 L128.77,210.80 L128.72,210.30 L128.67,209.80 L128.62,209.30 L128.57,208.80 L128.53,208.30 L128.49,207.80 L128.46,207.30 L128.43,206.80 L128.41,206.30 L128.40,205.80 L128.40,205.30 L128.41,204.80 L128.42,204.30 L128.43,203.80 L128.45,203.30 L128.48,202.80 L128.50,202.30 L128.53,201.80 L128.56,201.30 L128.60,200.80 L128.63,200.30 L128.66,199.80 L128.70,199.30 L128.75,198.80 L128.81,198.30 L128.87,197.80 L128.93,197.30 L129.01,196.80 L129.08,196.30 L129.16,195.80 L129.25,195.30 L129.34,194.80 L129.43,194.30 L129.53,193.80 L129.64,193.30 L129.76,192.80 L129.90,192.30 L130.05,191.80 L130.21,191.30 L130.38,190.80 L130.59,190.30 L130.87,189.80 L131.20,189.30 Z" fill="#c8c8c8" stroke="#333" stroke-width="1.5" stroke-linejoin="round"/>
<path d="M162.15,217.10 L162.19,217.60 L162.23,218.11 L162.27,218.61 L162.31,219.12 L162.36,219.62 L162.41,220.13 L162.46,220.63 L162.51,221.14 L162.56,221.64 L162.62,222.15 L162.67,222.65 L162.73,223.16 L162.79,223.66 L162.85,224.17 L162.92,224.67 L162.98,225.18 L163.05,225.68 L163.12,226.19 L163.20,226.69 L163.27,227.20 L163.35,227.70 L163.43,228.20 L163.53,228.71 L163.62,229.21 L163.73,229.72 L163.83,230.22 L163.94,230.73 L164.05,231.23 L164.16,231.74 L164.26,232.24 L164.37,232.75 L164.48,233.25 L164.59,233.76 L164.71,234.26 L164.84,234.77 L164.97,235.27 L165.11,235.78 L165.25,236.28 L165.40,236.79 L165.55,237.29 L165.71,237.80 L165.88,238.30 L166.05,238.80 L166.24,239.31 L166.43,239.81 L166.63,240.32 L166.86,240.82 L167.10,241.33 L167.36,241.83 L167.63,242.34 L167.91,242.84 L168.19,243.35 L168.47,243.85 L168.75,244.36 L169.03,244.86 L169.30,245.37 L169.58,245.87 L169.87,246.38 L170.17,246.88 L170.46,247.39 L170.75,247.89 L171.03,248.40 L171.30,248.90 L171.54,249.40 L171.76,249.91 L171.97,250.41 L172.19,250.92 L172.41,251.42 L172.62,251.93 L172.81,252.43 L172.96,252.94 L173.06,253.44 L173.10,253.95 L173.10,254.45 L173.10,254.96 L173.09,255.46 L173.07,255.97 L173.04,256.47 L172.99,256.98 L172.92,257.48 L172.83,257.99 L172.72,258.49 L172.58,259.00 L172.40,259.50 L151.20,259.50 L151.02,259.00 L150.88,258.49 L150.77,257.99 L150.68,257.48 L150.61,256.98 L150.56,256.47 L150.53,255.97 L150.51,255.46 L150.50,254.96 L150.50,254.45 L150.50,253.95 L150.54,253.44 L150.64,252.94 L150.79,252.43 L150.98,251.93 L151.19,251.42 L151.41,250.92 L151.63,250.41 L151.84,249.91 L152.06,249.40 L152.30,248.90 L152.57,248.40 L152.85,247.89 L153.14,247.39 L153.43,246.88 L153.73,246.38 L154.02,245.87 L154.30,245.37 L154.57,244.86 L154.85,244.36 L155.13,243.85 L155.41,243.35 L155.69,242.84 L155.97,242.34 L156.24,241.83 L156.50,241.33 L156.74,240.82 L156.97,240.32 L157.17,239.81 L157.36,239.31 L157.55,238.80 L157.72,238.30 L157.89,237.80 L158.05,237.29 L158.20,236.79 L158.35,236.28 L158.49,235.78 L158.63,235.27 L158.76,234.77 L158.89,234.26 L159.01,233.76 L159.12,233.25 L159.23,232.75 L159.34,232.24 L159.44,231.74 L159.55,231.23 L159.66,230.73 L159.77,230.22 L159.87,229.72 L159.98,229.21 L160.07,228.71 L160.17,228.20 L160.25,227.70 L160.33,227.20 L160.40,226.69 L160.48,226.19 L160.55,225.68 L160.62,225.18 L160.68,224.67 L160.75,224.17 L160.81,223.66 L160.87,223.16 L160.93,222.65 L160.98,222.15 L161.04,221.64 L161.09,221.14 L161.14,220.63 L161.19,220.13 L161.24,219.62 L161.29,219.12 L161.33,218.61 L161.37,218.11 L161.41,217.60 L161.45,217.10 Z" fill="#c8c8c8" stroke="#333" stroke-width="1.5" stroke-linejoin="round"/>
<path d="M55.00,186.00 L61.80,192.80 M55.00,192.80 L61.80,186.00" stroke="#e03a3a" stroke-width="1.4" fill="none"/>
<path d="M80.80,228.20 L87.60,235.00 M80.80,235.00 L87.60,228.20" stroke="#111" stroke-width="1.3" fill="none"/>
<path d="M106.70,186.00 L113.50,192.80 M106.70,192.80 L113.50,186.00" stroke="#e03a3a" stroke-width="1.4" fill="none"/>
<path d="M132.20,214.20 L139.00,221.00 M132.20,221.00 L139.00,214.20" stroke="#111" stroke-width="1.3" fill="none"/>
<path d="M158.30,227.90 L165.10,234.70 M158.30,234.70 L165.10,227.90" stroke="#e03a3a" stroke-width="1.4" fill="none"/>
<text x="197.10" y="185.70" font-size="10.2" text-anchor="start" font-weight="normal" fill="#222" >Colonization</text>
<text x="197.10" y="195.90" font-size="10.2" text-anchor="start" font-weight="normal" fill="#222" >events</text>
<path d="M199.15,202.65 L201.85,205.35 M199.15,205.35 L201.85,202.65" stroke="#111" stroke-width="1.1" fill="none"/>
<text x="210.00" y="207.00" font-size="8.5" text-anchor="start" font-weight="normal" fill="#222" >actual</text>
<path d="M200.5,210.9 C203.6,212.6 203.7,218.2 200.5,220.0 C197.3,218.2 197.4,212.6 200.5,210.9 Z" fill="#c0c0c0" stroke="#333" stroke-width="1.3"/>
<text x="210.00" y="218.20" font-size="8.6" text-anchor="start" font-weight="normal" fill="#222" >simulated</text>
<text x="198.30" y="242.10" font-size="10.2" text-anchor="start" font-weight="normal" fill="#222" >p&lt;0.05?</text>
<path d="M201.10,251.70 L204.30,254.90 M201.10,254.90 L204.30,251.70" stroke="#e03a3a" stroke-width="1.2" fill="none"/>
<text x="214.10" y="255.80" font-size="8.2" text-anchor="start" font-weight="normal" fill="#222" >TRUE</text>
<path d="M201.10,262.40 L204.30,265.60 M201.10,265.60 L204.30,262.40" stroke="#111" stroke-width="1.2" fill="none"/>
<text x="214.10" y="267.00" font-size="8.2" text-anchor="start" font-weight="normal" fill="#222" >FALSE</text>
<text x="314.00" y="179.60" font-size="10.2" text-anchor="start" font-weight="bold" fill="#111" >Subject XAA</text>
<text x="314.00" y="190.50" font-size="10.2" text-anchor="start" font-weight="bold" fill="#111" >Phocaeicola vulgatus</text>
<line x1="318.20" y1="197.40" x2="318.20" y2="262.95" stroke="#111" stroke-width="1.5" />
<line x1="313.60" y1="259.80" x2="318.20" y2="259.80" stroke="#111" stroke-width="1.5" />
<text x="308.60" y="263.00" font-size="8.8" text-anchor="end" font-weight="normal" fill="#222" >0.0</text>
<line x1="313.60" y1="239.87" x2="318.20" y2="239.87" stroke="#111" stroke-width="1.5" />
<text x="308.60" y="243.07" font-size="8.8" text-anchor="end" font-weight="normal" fill="#222" >0.2</text>
<line x1="313.60" y1="219.93" x2="318.20" y2="219.93" stroke="#111" stroke-width="1.5" />
<text x="308.60" y="223.13" font-size="8.8" text-anchor="end" font-weight="normal" fill="#222" >0.4</text>
<line x1="313.60" y1="200.00" x2="318.20" y2="200.00" stroke="#111" stroke-width="1.5" />
<text x="308.60" y="203.20" font-size="8.8" text-anchor="end" font-weight="normal" fill="#222" >0.6</text>
<text transform="translate(277.70,230.80) rotate(-90)" font-size="10.2" text-anchor="middle" font-weight="normal" fill="#222">Relative</text>
<text transform="translate(288.80,230.80) rotate(-90)" font-size="10.2" text-anchor="middle" font-weight="normal" fill="#222">abundance</text>
<line x1="317.55" y1="262.30" x2="418.50" y2="262.30" stroke="#111" stroke-width="1.5" />
<line x1="423.30" y1="262.30" x2="511.20" y2="262.30" stroke="#111" stroke-width="1.5" />
<path d="M414.8,270.0 L421.0,257.4 M419.9,270.0 L426.1,257.4" stroke="#111" stroke-width="1.7"/>
<line x1="336.60" y1="262.30" x2="336.60" y2="267.70" stroke="#111" stroke-width="1.5" />
<text x="336.60" y="279.10" font-size="8.8" text-anchor="middle" font-weight="normal" fill="#222" >−20</text>
<line x1="365.70" y1="262.30" x2="365.70" y2="267.70" stroke="#111" stroke-width="1.5" />
<text x="365.70" y="279.10" font-size="8.8" text-anchor="middle" font-weight="normal" fill="#222" >0</text>
<line x1="394.30" y1="262.30" x2="394.30" y2="267.70" stroke="#111" stroke-width="1.5" />
<text x="394.30" y="279.10" font-size="8.8" text-anchor="middle" font-weight="normal" fill="#222" >20</text>
<line x1="445.90" y1="262.30" x2="445.90" y2="267.70" stroke="#111" stroke-width="1.5" />
<text x="445.90" y="279.10" font-size="8.8" text-anchor="middle" font-weight="normal" fill="#222" >200</text>
<line x1="474.60" y1="262.30" x2="474.60" y2="267.70" stroke="#111" stroke-width="1.5" />
<text x="474.60" y="279.10" font-size="8.8" text-anchor="middle" font-weight="normal" fill="#222" >400</text>
<line x1="503.00" y1="262.30" x2="503.00" y2="267.70" stroke="#111" stroke-width="1.5" />
<text x="503.00" y="279.10" font-size="8.8" text-anchor="middle" font-weight="normal" fill="#222" >600</text>
<text x="408.00" y="292.90" font-size="10.2" text-anchor="middle" font-weight="normal" fill="#222" >Study day</text>
<path d="M327.00,224.90 L338.20,238.80 L344.20,234.20 L355.30,227.70 L358.50,221.00 L361.30,237.90 L364.10,229.50 L366.30,259.80 L327.00,259.80 Z" fill="#322385"/>
<path d="M327.00,255.60 L338.00,256.00 L350.00,254.60 L358.00,254.30 L363.00,254.50 L366.30,259.80 L327.00,259.80 Z" fill="#dfcf79"/>
<rect x="365.7" y="200.0" width="7.4" height="59.8" fill="#dca627"/>
<path d="M383,259.8 L400,259.2 L416,259.6 L416,259.8 Z" fill="#b9a9c2"/>
<path d="M446.00,259.80 L462.00,258.60 L477.90,256.50 L487.80,201.60 L492.60,200.20 L497.00,230.00 L502.20,245.80 L506.30,234.00 L506.30,259.80 Z" fill="#8a1f59"/>
<path d="M472.00,259.80 L478.40,258.60 L485.00,257.60 L490.00,256.20 L495.00,256.80 L502.00,258.20 L506.30,257.80 L506.30,259.80 Z" fill="#177d33"/>
<rect x="-10.50" y="-6.60" width="21" height="13.2" rx="3" fill="#322385" transform="translate(542.30,203.10) rotate(25)"/>
<rect x="-10.50" y="-6.60" width="21" height="13.2" rx="3" fill="#8a1f59" transform="translate(609.20,203.20) rotate(25)"/>
<rect x="-10.50" y="-6.60" width="21" height="13.2" rx="3" fill="#dfcf79" transform="translate(542.30,256.10) rotate(25)"/>
<rect x="-10.50" y="-6.60" width="21" height="13.2" rx="3" fill="#177d33" transform="translate(609.30,256.10) rotate(25)"/>
<line x1="564.40" y1="203.10" x2="587.70" y2="203.10" stroke="#42ad96" stroke-width="2.1"/>
<path d="M593.30,203.10 L585.30,207.10 L587.54,203.10 L585.30,199.10 Z" fill="#42ad96"/>
<path d="M558.80,203.10 L566.80,207.10 L564.56,203.10 L566.80,199.10 Z" fill="#42ad96"/>
<line x1="544.70" y1="219.80" x2="544.70" y2="242.40" stroke="#42ad96" stroke-width="2.1"/>
<path d="M544.70,248.00 L540.70,240.00 L544.70,242.24 L548.70,240.00 Z" fill="#42ad96"/>
<path d="M544.70,214.20 L540.70,222.20 L544.70,219.96 L548.70,222.20 Z" fill="#42ad96"/>
<line x1="563.52" y1="219.49" x2="589.38" y2="242.11" stroke="#8ecfec" stroke-width="3.0"/>
<path d="M593.60,245.80 L584.81,243.69 L589.26,242.01 L590.34,237.37 Z" fill="#8ecfec"/>
<path d="M559.30,215.80 L562.56,224.23 L563.64,219.59 L568.09,217.91 Z" fill="#8ecfec"/>
<line x1="588.51" y1="219.52" x2="563.09" y2="242.08" stroke="#42ad96" stroke-width="2.1"/>
<path d="M558.90,245.80 L562.23,237.50 L563.21,241.98 L567.54,243.48 Z" fill="#42ad96"/>
<path d="M592.70,215.80 L584.06,218.12 L588.39,219.62 L589.37,224.10 Z" fill="#42ad96"/>
<line x1="607.90" y1="219.90" x2="607.90" y2="242.00" stroke="#8ecfec" stroke-width="3.0"/>
<path d="M607.90,247.60 L603.70,239.60 L607.90,241.84 L612.10,239.60 Z" fill="#8ecfec"/>
<path d="M607.90,214.30 L603.70,222.30 L607.90,220.06 L612.10,222.30 Z" fill="#8ecfec"/>
<line x1="564.80" y1="256.00" x2="587.40" y2="256.00" stroke="#8ecfec" stroke-width="3.0"/>
<path d="M593.00,256.00 L585.00,260.20 L587.24,256.00 L585.00,251.80 Z" fill="#8ecfec"/>
<path d="M559.20,256.00 L567.20,260.20 L564.96,256.00 L567.20,251.80 Z" fill="#8ecfec"/>
<text x="675.20" y="195.30" font-size="10.2" text-anchor="middle" font-weight="bold" fill="#111" >Genetic distance</text>
<text x="676.30" y="211.50" font-size="8.8" text-anchor="middle" font-weight="normal" fill="#222" >0.1% ANI</text>
<line x1="641.04" y1="217.20" x2="711.06" y2="217.20" stroke="#e09aaa" stroke-width="1.6"/>
<path d="M715.40,217.20 L709.20,220.10 L710.94,217.20 L709.20,214.30 Z" fill="#e09aaa"/>
<path d="M636.70,217.20 L642.90,220.10 L641.16,217.20 L642.90,214.30 Z" fill="#e09aaa"/>
<text x="676.60" y="232.20" font-size="8.8" text-anchor="middle" font-weight="normal" fill="#222" >0.1-0.5% ANI</text>
<line x1="642.44" y1="238.20" x2="709.66" y2="238.20" stroke="#42ad96" stroke-width="2.1"/>
<path d="M715.40,238.20 L707.20,242.10 L709.50,238.20 L707.20,234.30 Z" fill="#42ad96"/>
<path d="M636.70,238.20 L644.90,242.10 L642.60,238.20 L644.90,234.30 Z" fill="#42ad96"/>
<text x="677.30" y="253.00" font-size="8.8" text-anchor="middle" font-weight="normal" fill="#222" >&gt;0.5% ANI</text>
<line x1="642.30" y1="259.40" x2="709.80" y2="259.40" stroke="#8ecfec" stroke-width="2.9"/>
<path d="M715.40,259.40 L707.40,263.40 L709.64,259.40 L707.40,255.40 Z" fill="#8ecfec"/>
<path d="M636.70,259.40 L644.70,263.40 L642.46,259.40 L644.70,255.40 Z" fill="#8ecfec"/>
</svg>
</body></html>
